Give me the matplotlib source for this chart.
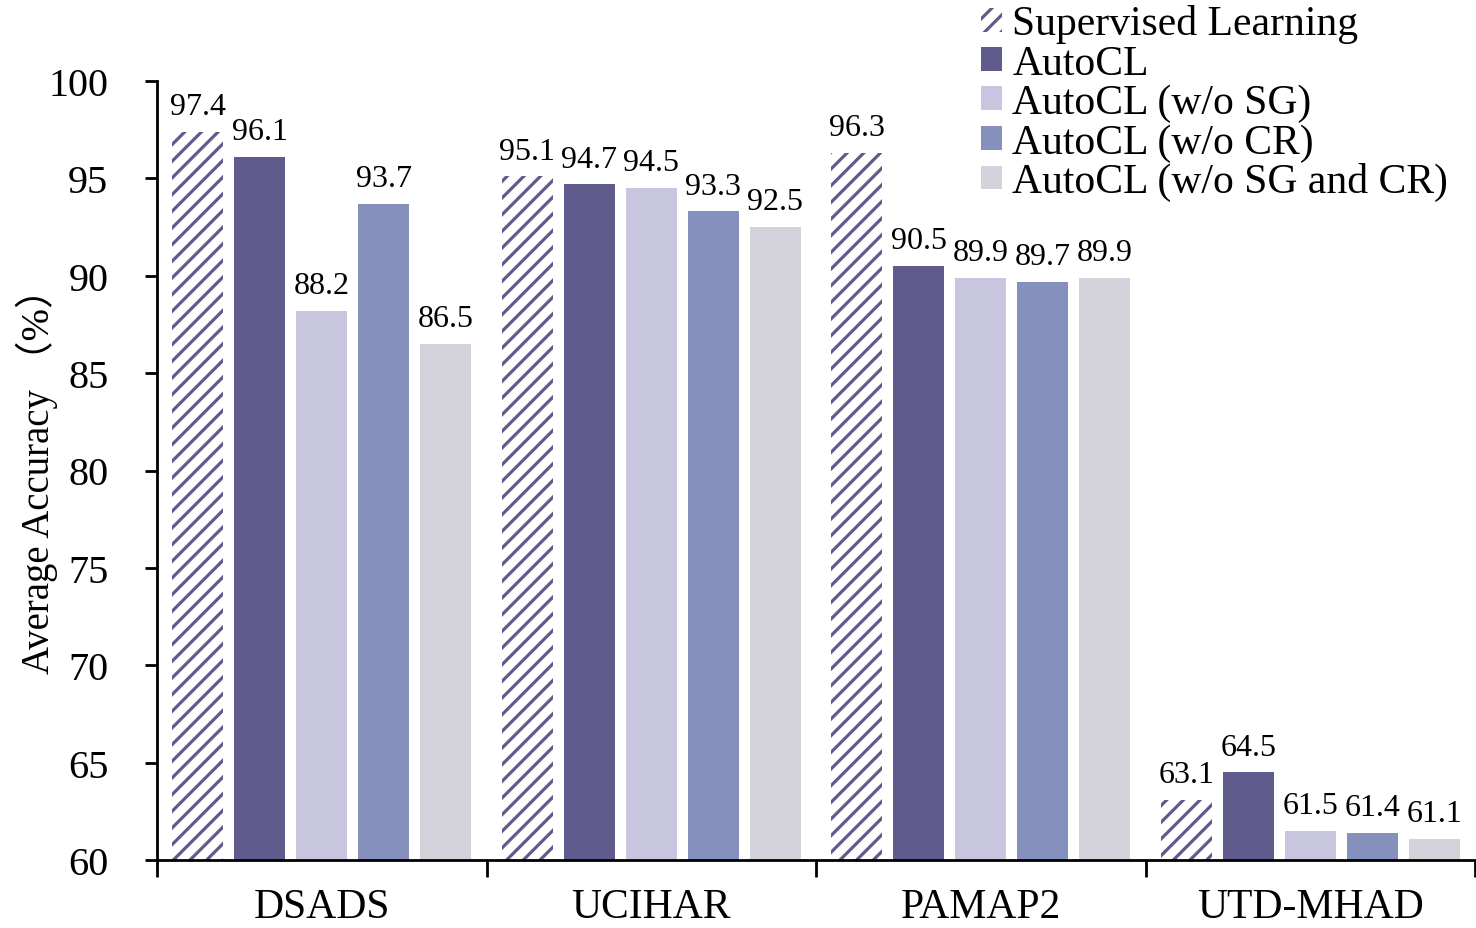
import matplotlib
matplotlib.use("Agg")
import matplotlib.pyplot as plt
import numpy as np
from matplotlib.patches import Patch

plt.rcParams['font.family'] = ['Liberation Serif', 'Noto Sans CJK SC', 'DejaVu Sans']
plt.rcParams['hatch.linewidth'] = 2.3

datasets = ["DSADS", "UCIHAR", "PAMAP2", "UTD-MHAD"]
methods = ["Supervised Learning", "AutoCL", "AutoCL (w/o SG)", "AutoCL (w/o CR)", "AutoCL (w/o SG and CR)"]
supervised = [97.4, 95.1, 96.3, 63.1]
autocl = [96.1, 94.7, 90.5, 64.5]
wo_sg = [88.2, 94.5, 89.9, 61.5]
wo_cr = [93.7, 93.3, 89.7, 61.4]
wo_sg_cr = [86.5, 92.5, 89.9, 61.1]
series = [supervised, autocl, wo_sg, wo_cr, wo_sg_cr]
colors = ["#ffffff", "#5f5b8c", "#c8c5df", "#8690bd", "#d4d3dc"]
hatch_color = "#5f5b8c"

fig = plt.figure(figsize=(14.76, 9.29), dpi=100)
ax = fig.add_axes([157/1476, 1-861/929, 1318/1476, (861-82)/929])

x = np.arange(len(datasets))
pitch = 0.188
width = 0.155
for i, (vals, c) in enumerate(zip(series, colors)):
    pos = x + (i - 2) * pitch
    if i == 0:
        ax.bar(pos, vals, width, color="white", edgecolor=hatch_color,
               hatch="//", linewidth=0)
    else:
        ax.bar(pos, vals, width, color=c, linewidth=0)
    for p, v in zip(pos, vals):
        ax.text(p, v + 0.55, f"{v:.1f}", ha="center", va="bottom", fontsize=23)

ax.set_ylim(60, 100)
ax.set_xlim(-0.5, 3.5)
ax.set_yticks(range(60, 101, 5))
ax.tick_params(axis="y", labelsize=29, direction="out", length=9, width=2, pad=26)
ax.set_xticks(x)
ax.set_xticklabels(datasets, fontsize=30)
ax.tick_params(axis="x", which="major", length=0, pad=20)
ax.set_xticks(np.arange(-0.5, 4, 1), minor=True)
ax.tick_params(axis="x", which="minor", direction="out", length=12, width=2)
for s in ["top", "right"]:
    ax.spines[s].set_visible(False)
for s in ["left", "bottom"]:
    ax.spines[s].set_linewidth(2)
ax.set_ylabel("Average Accuracy （%）", fontsize=28, labelpad=-7)

handles = [Patch(facecolor="white", edgecolor=hatch_color, hatch="//", linewidth=0)]
handles += [Patch(facecolor=c, linewidth=0) for c in colors[1:]]
fig.legend(handles, methods, loc="upper left", bbox_to_anchor=(956/1476, 1.021),
           frameon=False, fontsize=30, handlelength=0.5, handleheight=0.5,
           handletextpad=0.25, labelspacing=0.02, borderpad=0.1)

fig.savefig("out.png", dpi=100)
